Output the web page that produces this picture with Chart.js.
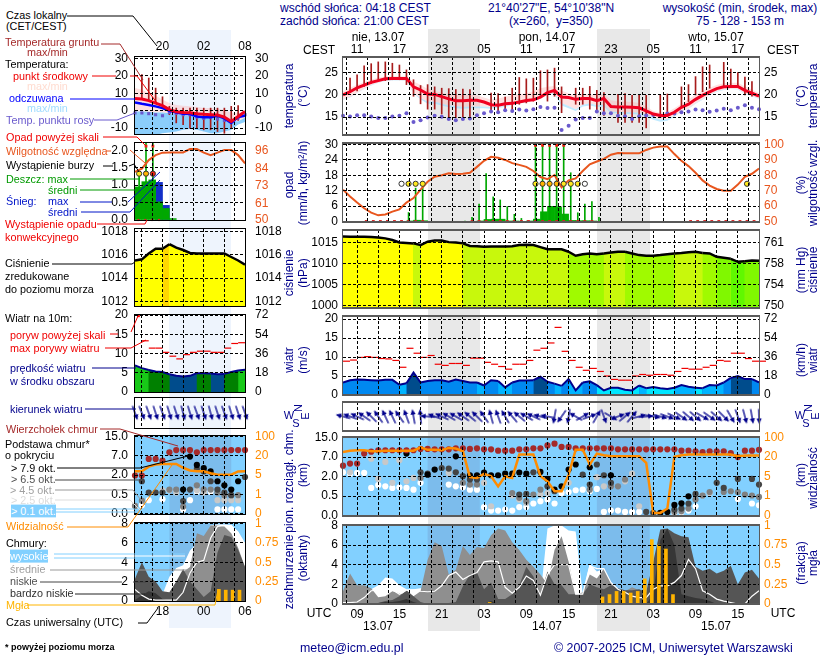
<!DOCTYPE html>
<html>
<head>
<meta charset="utf-8">
<title>meteogram</title>
<script src="https://cdn.jsdelivr.net/npm/chart.js@4/dist/chart.umd.min.js"></script>
<style>
html, body { margin: 0; padding: 0; background: #fff; }
#page { position: relative; width: 820px; height: 660px; overflow: hidden; font-family: "Liberation Sans", Arial, sans-serif; }
#page canvas { position: absolute; }
#page svg { position: absolute; left: 0; top: 0; }
.t { position: absolute; white-space: pre; line-height: 1; transform: translateY(-50%); }
.c { transform: translate(-50%, -50%); }
.r { transform: translate(-50%, -50%) rotate(-90deg); }
.band { position: absolute; }
</style>
</head>
<body>
<div id="page"></div>
<script>
// meteogram long panel: one value per hour, hour 7 of 13.07 UTC is the first
const startR = 7;
// hours counted from 13.07 00 UTC
const nightsR = [[19, 26.4], [43, 50.5]];
const tickHoursR = [9, 12, 15, 18, 21, 24, 27, 30, 33, 36, 39, 42, 45, 48, 51, 54, 57, 60, 63, 66];
const cestLabelsR = ['11', '', '17', '', '23', '', '05', '', '11', '', '17', '', '23', '', '05', '', '11', '', '17', ''];
const utcLabelsR = ['09', '', '15', '', '21', '', '03', '', '09', '', '15', '', '21', '', '03', '', '09', '', '15', ''];

const tempMid = [20, 20.7, 21.6, 22.2, 22.8, 23.2, 23.6, 23.7, 23.7, 23.7, 21.8, 21.1, 20.2, 20.1, 19.6, 19.1, 18.7, 18.7, 18.8, 18.8, 18.4, 17.8, 17.7, 18, 18.1, 18.4, 18.75, 18.9, 19.5, 20.5, 21, 19.5, 19.4, 19, 19.2, 19.2, 18.7, 19.2, 17.4, 17.3, 17.3, 17.2, 17.1, 16.4, 15.7, 15.4, 15.4, 16.1, 17.2, 17.9, 19, 19.9, 20.7, 21.4, 21.8, 21.9, 21.9, 21, 20.4, 19.7];
const tempMax = [20.8, 21.6, 22.3, 22.9, 23.4, 23.9, 24.1, 24.2, 24.2, 24.1, 23, 22.3, 21.3, 20.9, 20.5, 20.2, 20, 20, 20, 19.9, 19.4, 18.9, 19.2, 19.6, 19.9, 20.2, 20.3, 20.8, 21.5, 21.8, 22, 21, 20.3, 20, 20.2, 20.2, 19.9, 20.2, 18.8, 18.5, 18.5, 18.4, 18.2, 17.4, 16.4, 16, 16.1, 17, 18, 19, 20, 20.9, 21.6, 22.2, 22.6, 22.7, 22.7, 21.9, 21.2, 20.4];
const tempMin = [19, 19.5, 20.5, 21.4, 22.2, 22.8, 23.2, 23.4, 23.3, 23.2, 20.5, 19.3, 18.5, 18.5, 18, 17.6, 17.5, 17.3, 17.4, 17.4, 17.4, 17.2, 17.4, 17.5, 17.9, 18.2, 18.4, 18.9, 19.9, 20.3, 20.3, 18.2, 17.5, 16.8, 17.8, 18.1, 17.7, 17.8, 16.2, 16.2, 16.1, 16.1, 16, 15.6, 15, 14.5, 14.6, 15.3, 16.3, 17, 18.1, 19, 20, 20.8, 21.2, 21.4, 21.3, 20.3, 19.8, 19.2];
const feelLow = [18.9, 19.4, 20.4, 21.3, 22.1, 22.7, 23.1, 23.3, 23.2, 23.1, 20.3, 19, 18, 18, 17.6, 17.2, 17, 16.9, 17, 17, 17, 16.9, 17.1, 17.3, 17.8, 18.1, 18.3, 18.8, 19.8, 20.2, 20.1, 17.6, 17, 16.4, 17.4, 17.6, 17.3, 17.4, 15.9, 15.9, 15.7, 15.7, 15.6, 15.1, 14.4, 14, 14.2, 15.1, 16.2, 16.9, 18, 18.9, 19.9, 20.7, 21.1, 21.3, 21.2, 20.2, 19.7, 19.1];
const dewPoint = [15.3, 15.15, 15.45, 15.45, 15.15, 14.8, 14.8, 15.15, 15.3, 15.9, 13.9, 14.3, 14.9, 15.3, 15.1, 14.6, 14.3, 14.6, 14.7, 15.45, 15.9, 16.25, 16.1, 16.55, 16.4, 16.7, 16.5, 16.75, 17.3, 17.05, 17.1, 12.1, 13.1, 14.5, 14.8, 14.8, 16.3, 15.9, 15.9, 15.3, 15.2, 14.6, 15.2, 15.4, 15.5, 15.3, 15.8, 15.8, 16.1, 16.25, 16.7, 16.55, 16.2, 16.5, 16.9, 16.55, 17.1, 17.7, 17.1, 16.8];
const groundIdx = [1, 2, 3, 4, 5, 6, 7, 8, 9, 10, 11, 12, 13, 14, 15, 16, 17, 18, 21, 22, 23, 24, 25, 26, 27, 28, 29, 30, 31, 33, 34, 35, 36, 37, 39, 40, 41, 42, 43, 45, 46, 48, 49, 50, 51, 52, 54, 55, 56, 57, 58];
const groundMax = [23.75, 24.5, 26.5, 27, 27.4, 27.4, 27.1, 26.7, 25.6, 23.4, 22.1, 22.3, 21.8, 21.5, 21.4, 21.2, 21.3, 21.2, 20.4, 20.3, 19.5, 21.5, 23.9, 23.6, 23.75, 25.4, 25.6, 26, 21.8, 21.5, 21.5, 21.9, 21, 20.5, 20.1, 20.3, 19.9, 20.1, 19.9, 19.9, 20.2, 21.8, 22.3, 24.1, 26.3, 26.7, 27.3, 25.8, 25, 24, 23];
const groundMin = [20.7, 20.9, 21.9, 22.6, 23.4, 23.2, 23.4, 23.4, 22.3, 19.7, 18, 16.8, 16.8, 15.7, 14.9, 14.9, 14.9, 14.9, 16, 16, 16.8, 16.4, 17.9, 18.2, 18.6, 19.9, 18.6, 19.7, 16, 17.9, 17.9, 16.8, 16.4, 15.4, 13.8, 13.8, 13.8, 13.8, 12.6, 14.9, 16, 17.4, 18.5, 20, 20.7, 21.5, 21.9, 21.9, 21.9, 20, 19.7];

const humidity = [70.7, 66.3, 62.3, 58.6, 55.7, 54, 54.6, 56.4, 57.9, 62.3, 65.2, 70.7, 75.8, 79.1, 80, 81.3, 80.8, 81, 81.7, 85.5, 89.4, 92, 91.4, 90, 87.9, 86.8, 85.5, 82.8, 78.9, 77.5, 80.2, 72.2, 76.7, 78, 82.8, 87.2, 89, 90.7, 93.4, 94.5, 94.3, 94.3, 94.3, 96.5, 98, 98.7, 98.7, 93.8, 89.4, 86, 81.7, 76.7, 73.3, 71.1, 70, 70, 74, 79, 81, 84.4];
const rainMaxIdx = [9, 10, 11, 17, 18, 19, 20, 21, 22, 23, 24, 25, 27, 28, 29, 30, 31, 32, 33, 34, 35, 36];
const rainMax = [3.5, 13, 15.5, 0.2, 1.6, 6.8, 18.7, 9.6, 8.4, 5.8, 2.8, 1.2, 35, 35, 35, 35, 35, 19, 3.4, 6.8, 7.8, 1.6];
const rainMeanIdx = [9, 10, 11, 19, 20, 21, 22, 23, 24, 26, 27, 28, 29, 30, 31, 32, 33, 34, 35];
const rainMean = [0.1, 0.5, 0.3, 0.2, 0.8, 0.9, 0.9, 0.2, 0.1, 0.1, 0.9, 3.8, 5.9, 5.7, 2.9, 0.4, 0.3, 0.3, 0.1];
const overScaleIdx = [27, 28, 29, 30, 31];
const overScale = [29.7, 29.7, 29.7, 29.7, 29.7];
const convectiveIdx = [3, 4, 5, 6, 7, 8, 9, 10, 11, 18, 19, 20, 21, 22, 23, 24, 25, 26, 27, 28, 29, 30, 31, 32, 33, 34, 35, 49, 50, 51, 52, 53, 54, 55, 56, 57, 58];
const stormIdx = [8, 9, 10, 11, 27, 28, 29, 30, 31, 32, 33, 34, 57];
const stormColors = ['#fff', '#ffe81c', '#ffe81c', '#ffe81c', '#ffe81c', '#ffb400', '#ffb400', '#ffb400', '#ffe81c', '#ffe81c', '#ffe81c', '#fff', '#ffe81c'];

const pressure = [1016.45, 1016.4, 1016.4, 1016.4, 1016.35, 1016.2, 1016, 1015.6, 1015, 1014.9, 1014.8, 1014.4, 1015.2, 1015.5, 1015.5, 1015.1, 1015, 1014.8, 1014.2, 1014.1, 1014, 1014.05, 1014.05, 1014.05, 1014.1, 1014.4, 1014.5, 1014.4, 1013.9, 1013.4, 1013.4, 1013.4, 1012.8, 1011.85, 1012.2, 1012.4, 1012.2, 1012.4, 1012.6, 1012.8, 1012.8, 1012.4, 1012, 1011.85, 1011.85, 1012, 1012.2, 1012.4, 1012.5, 1012.7, 1012.8, 1012.5, 1012.4, 1011.6, 1011.35, 1011.1, 1010.4, 1010.55, 1010.7, 1010.65];

const windSpeed = [3.3, 3.9, 4.1, 4, 3.9, 3.8, 4, 4, 2.7, 3.1, 5.9, 3.3, 3.7, 3.9, 3.9, 3.5, 4.1, 3.7, 3.3, 3.3, 2.5, 3.9, 3.7, 2, 3.3, 3.8, 3.8, 3.9, 4.8, 3.5, 3, 2.4, 4.2, 1.2, 3.3, 3.6, 2.6, 1.2, 1.9, 1.9, 1.4, 1.2, 2.5, 1.8, 2.1, 1.8, 1.6, 1.9, 2.6, 2.2, 1.9, 1.8, 2.6, 2.5, 3.3, 4.5, 5, 4.2, 4.2, 3.3];
const windGust = [8.9, 9.2, 9.9, 10.1, 9.9, 9.6, 9.5, 9.1, 7.3, 12.3, 11, 9.9, 10.4, 8.1, 7.8, 8.3, 8.3, 7.8, 9.7, 9.7, 8.6, 8.1, 7.5, 6.8, 8.1, 8.1, 9.1, 11.8, 12.3, 13.7, 17.8, 11.5, 9.1, 7.3, 6.5, 7, 6.2, 5, 4.1, 3.9, 3.9, 5, 5.4, 5.2, 5.4, 5.4, 5.2, 6.2, 7, 6.8, 6.8, 7.3, 7.8, 9.1, 8.9, 11, 11, 9.6, 8.9, 8.9];
const windDir = [285, 290, 295, 305, 315, 325, 335, 335, 325, 340, 350, 355, 275, 290, 295, 300, 300, 305, 310, 315, 325, 345, 340, 330, 320, 310, 300, 295, 285, 280, 190, 215, 190, 300, 60, 70, 30, 160, 120, 70, 50, 40, 75, 85, 100, 105, 110, 115, 125, 130, 130, 120, 125, 130, 135, 150, 160, 165, 170, 178];

// cloud base axis is uneven, values are positions on its five marks
const baseTicks = [0, 1, 2, 3, 4];
const baseLabels = ['0.0', '0.5', '2.0', '7.0', '15.0'];
const visLabels = ['0', '1', '5', '20', '100'];
const cloudTop = [2.56, 2.67, 2.67, 3.18, 3.28, 3.35, 3.35, 3.35, 3.35, 3.35, 3.35, 3.42, 3.42, 3.4, 3.4, 3.4, 3.45, 3.45, 3.42, 3.45, 3.4, 3.4, 3.33, 3.33, 3.33, 3.4, 3.4, 3.45, 3.45, 3.6, 3.69, 3.52, 3.52, 3.45, 3.45, 3.45, 3.45, 3.45, 3.45, 3.4, 3.4, 3.4, 3.4, 3.4, 3.4, 3.4, 3.4, 3.4, 3.33, 3.33, 3.3, 3.25, 3.3, 3.3, 3.3, 3.2, 3, 3.33, 3.33, 3.37];
const base79Idx = [9, 12, 13, 16, 18, 19, 20, 21, 22, 23, 24, 25, 26, 28, 29, 30, 31, 32, 33, 35, 38, 45, 46, 47, 48, 49];
const base79 = [3.18, 2.1, 2.36, 3.04, 2.07, 2.07, 2.21, 2.07, 2.07, 2.15, 2.15, 2.21, 2.15, 2.24, 1.88, 1.33, 1.5, 2.36, 2.62, 2.48, 2.07, 0.14, 0.19, 0.55, 0.63, 0.99];
const base65Idx = [11, 12, 14, 15, 16, 17, 18, 19, 25, 26, 27, 29, 30, 34, 35, 36, 37, 38, 43, 44, 47, 48, 49, 50, 53, 54, 56, 58, 59];
const base65 = [2.22, 2.15, 2.44, 2.41, 2.22, 2.02, 1.85, 1.85, 1.08, 1.11, 2.22, 1.5, 1.25, 2.1, 1.59, 2.62, 2.07, 1.68, 0.19, 0.14, 0.31, 0.36, 0.62, 1.11, 1.68, 1.42, 1.88, 1.88, 1.59];
const base45Idx = [11, 17, 18, 19, 24, 25, 26, 27, 28, 35, 38, 39, 40, 47, 48, 49, 50, 51, 52, 54, 55, 56, 57, 58, 59];
const base45 = [1.93, 1.68, 1.59, 1.59, 1.16, 0.91, 0.74, 1.08, 1.33, 1.33, 1.5, 1.5, 1.85, 0.19, 0.22, 0.36, 0.82, 1.03, 1.21, 1.21, 1.25, 1.21, 1.08, 1.03, 0.96];
const base25Idx = [1, 4, 5, 6, 7, 8, 9, 10, 15, 20, 21, 24, 25, 26, 28, 29, 32, 36, 37, 40, 41, 42, 51, 52];
const base25 = [2.22, 2.92, 1.88, 2.75, 1.68, 2.84, 1.76, 1.93, 2.19, 1.68, 0.48, 1.03, 0.82, 0.65, 1.08, 1.16, 1.68, 1.97, 1.5, 1.76, 2.15, 0.48, 1.03, 1.16];
const base01Idx = [0, 1, 2, 3, 4, 5, 6, 7, 8, 9, 10, 11, 15, 16, 17, 18, 19, 20, 21, 22, 23, 24, 25, 26, 27, 28, 29, 30, 31, 32, 33, 34, 35, 36, 37, 38, 39, 40, 41, 42, 47, 48, 49, 50, 56, 58, 59];
const base01 = [2.22, 2.14, 2.19, 2.19, 1.42, 1.56, 1.5, 1.42, 1.45, 1.42, 1.33, 1.68, 1.59, 1.5, 1.45, 1.33, 1.33, 0.43, 0.26, 0.26, 0.31, 0.26, 0.44, 0.44, 0.62, 0.74, 0.82, 0.62, 1.16, 1.21, 1.3, 1.33, 1.25, 1.37, 0.19, 0.26, 0.26, 0.19, 0.19, 0.19, 0.14, 0.19, 0.26, 0.48, 0.85, 0.62, 0.53];
const visibility = [3.26, 3.33, 3.35, 3.35, 3.3, 3.3, 3.33, 3.33, 3.33, 3.33, 3.33, 3.5, 3.37, 3.37, 3.35, 3.47, 3.44, 3.3, 1.97, 1.93, 2.14, 2.02, 1.5, 2.02, 1.93, 3.13, 3.13, 3.13, 2.02, 1.76, 1.25, 1.25, 2.1, 3.38, 3.38, 2.62, 3.18, 3.09, 3.04, 3.04, 3.04, 3.04, 3.04, 2.7, 0.14, 0.14, 0.36, 3.01, 3.09, 3.13, 3.13, 3.13, 3.13, 3.13, 3.13, 3.13, 3.04, 3.08, 3.08, 3.08];

const cloudHigh = [0.1, 0.1, 0.1, 0.5, 1.5, 1.9, 2.7, 2.6, 1.9, 1.5, 1.5, 1.6, 1.4, 1.3, 0.8, 0.6, 0.5, 1, 1.2, 1.4, 1.8, 2.2, 2.6, 2, 0.9, 0.5, 0.7, 1.5, 0.7, 7.7, 8, 8, 7.5, 7.4, 1, 4.1, 3.3, 3.6, 2.2, 1.5, 1.2, 0.9, 0.7, 0.7, 1.5, 1.8, 1.8, 2.2, 2.9, 4.5, 3.6, 1.3, 1, 0.5, 0.3, 0.1, 0, 0, 0.8, 1.3];
const cloudMid = [1.3, 3.1, 1.9, 1.9, 1.6, 0.7, 0.8, 1.3, 1.1, 1, 0.8, 1.3, 4.5, 6.3, 5.9, 3, 3.5, 5.9, 5, 5.8, 5.7, 7, 7.7, 7.5, 6.3, 5.5, 4.5, 3.8, 3, 2, 5.5, 6.9, 4.3, 0.9, 1.2, 3, 2.6, 3.6, 2.2, 1.5, 1.3, 1.7, 1.4, 1, 0.5, 0.3, 0.2, 0.2, 0.1, 0, 0, 0, 0, 0, 0, 0, 0, 0, 0, 0];
const cloudLow = [0, 0, 0, 0, 0, 0.1, 0.3, 0.4, 0.8, 1.4, 0.8, 0.2, 0, 0, 0, 0.1, 0.2, 1.8, 3, 3.2, 1.5, 2.2, 0.5, 0.5, 1, 1.9, 3.8, 2.8, 1, 3.3, 2, 1.9, 1, 1, 1, 2, 1.7, 1.5, 1.9, 1.6, 1.4, 1.4, 1.5, 1.2, 4.3, 7.6, 7.7, 7.2, 6.9, 6.8, 3.8, 3.4, 3.6, 3.1, 3.4, 3.9, 2, 3.2, 3.5, 2.6];
const cloudVeryLow = [0, 0, 0, 0, 0, 0.1, 0.2, 0.2, 0.3, 0.5, 0.2, 0, 0, 0, 0, 0, 0, 0, 0, 0, 0, 0.3, 0, 0, 0, 0, 0, 0, 0, 0, 0, 0, 0, 0, 0, 0, 0, 0, 0, 0, 0, 0, 0, 0, 1, 6.5, 7.7, 6, 1, 0.8, 0.6, 0.5, 0.3, 0, 0, 0, 0, 0, 0, 0];
const cloudLine = [0.14, 0.14, 0.2, 0.65, 1.35, 1.4, 1, 1.45, 1, 1.4, 1.45, 1.3, 1.25, 1.3, 1.85, 2.9, 3.25, 2.5, 2.9, 3.2, 4.3, 4.4, 4.3, 1.7, 1.1, 1.7, 2.85, 2.4, 0.9, 3, 4, 4, 4, 1, 1, 3.9, 3.6, 3.6, 2.2, 1.5, 1.2, 0.8, 0.65, 0.65, 1.5, 1.85, 1.85, 2.2, 2.9, 4.55, 3.6, 1.35, 1, 0.5, 0.3, 0.15, 0, 0, 0.8, 1.35];
const fogIdx = [21, 37, 38, 39, 40, 41, 42, 43, 44, 45, 46, 47];
const fog = [0.02, 0.09, 0.12, 0.16, 0.16, 0.14, 0.16, 0.32, 0.82, 0.75, 0.7, 0.12];

// short legend panel: hour 14 of the day before to hour 06
const startL = 14;
const nightL = [19, 28];
const tickHoursL = [15, 18, 21, 24, 27, 30];
const localLabelsL = ['', '20', '', '02', '', '08'];
const utcLabelsL = ['', '18', '', '00', '', '06'];

const tempMidL = [7.1, 6.7, 5.8, 4.4, 2.9, 0.6, -0.6, -1, -1.2, -1.7, -2.1, -2.3, -2.5, -3.7, -6.2, -3.3, -0.4];
const feelMidL = [4.8, 4, 3.3, 2.5, 1.5, 0, -1, -1.7, -1.9, -3.3, -3.7, -3.7, -2.9, -4.4, -7.1, -3.7, -2.9];
const tempMaxL = [13, 12, 10.2, 8.7, 6.3, 4.4, 3.3, 2.9, 2.5, 2.1, 1.5, 1.5, 1.2, 0.6, -1.3, -1.3, -0.4];
const tempMinL = [-0.4, -0.4, -0.6, -1, -1, -1.5, -2, -2.5, -3, -3, -3.5, -3.5, -3.5, -4.5, -6, -6, -4];
const feelMinL = [-14, -14, -14, -14, -13, -12.5, -12, -11, -10.5, -11, -12, -13, -13, -12, -11, -8, -6.5];
const dewPointL = [-1.3, -1.3, -1.7, -2.3, -2.9, -1, -1.5, -2.3, -2.3, -3.7, -4.4, -3.7, -4.8, -5.6, -6.2, -4.2, -2.3];
const groundIdxL = [1, 2, 3, 4, 5, 6, 7, 8, 9, 10, 11, 12, 13, 14, 15];
const groundMaxL = [20.8, 18.8, 13, 8, 2.5, 1.5, 1.5, 1.5, 1.5, 1.5, 1.5, 1.5, 1.5, 2.5, 3];
const groundMinL = [7.3, 6.3, 4.4, 3, -2.3, -7, -8, -10, -10, -11, -11, -12, -13, -10, -5.6];

const humidityL = [81.9, 84, 89.6, 92.9, 94.5, 94.7, 94.7, 94.7, 96.9, 96.9, 94.5, 92.9, 94.5, 96.2, 96.2, 92.9, 87.4];
const rainMeanIdxL = [0, 1, 2, 3, 4, 5];
const rainMeanL = [0.95, 1.1, 1.15, 0.52, 0.33, 0.04];
const snowMeanIdxL = [3, 4];
const snowMeanL = [1.08, 0.42];
const rainMaxIdxL = [0, 1, 2];
const rainMaxL = [1.34, 2.3, 2.3];
const overScaleIdxL = [1, 2];
const overScaleL = [2.12, 2.12];
const convectiveIdxL = [0, 1, 2, 3];
const stormIdxL = [0, 1, 2];
const stormColorsL = ['#ffe81c', '#ffb400', '#f02010'];

const pressureL = [1015.5, 1015.6, 1016.1, 1016.5, 1016.5, 1016.9, 1016.6, 1016.4, 1016.15, 1016.1, 1016.1, 1016.1, 1016.1, 1016.1, 1015.8, 1015.5, 1015.15];

const windSpeedL = [6.9, 6.2, 5.7, 5.3, 5.2, 4.6, 4.2, 4, 4.2, 4.9, 4.9, 4.8, 4.6, 4.7, 5.2, 5.6, 5.8];
const windGustL = [17, 13.3, 11.4, 11.4, 10.3, 9.3, 8.6, 9.7, 10.3, 10.6, 10.6, 10.3, 10.3, 11.4, 12.6, 12.8];
const gustOverL = [19.8];
const windDirL = [160, 158, 160, 162, 160, 163, 162, 165, 163, 160, 162, 165, 162, 160, 163, 162, 160];

const cloudTopL = [1.98, 1.98, 2.84, 2.84, 2.75, 3.18, 3.3, 3.3, 3.3, 3.18, 3.3, 3.3, 3.3, 3.3, 3.3, 3.3, 3.3];
const base79IdxL = [7, 8, 9, 10, 11, 12, 13, 14, 15];
const base79L = [1.25, 2.96, 2.53, 2.36, 2.19, 1.68, 1.47, 1.25, 1.68];
const base65IdxL = [1, 2, 3, 4, 7, 8, 9, 10, 11, 12, 13, 14, 16];
const base65L = [1.68, 1.09, 1.09, 1.09, 0.65, 1.25, 2.32, 2.19, 1.68, 1.25, 1.09, 0.96, 1.9];
const base45IdxL = [0, 1, 5, 6, 7, 9, 10, 11, 12, 13, 14, 15];
const base45L = [0.4, 0.67, 1.25, 1.25, 0.36, 1.47, 1.25, 1.25, 1.09, 0.96, 0.96, 0.96];
const base25IdxL = [0, 4, 5, 6, 9, 10, 12, 13, 14, 15];
const base25L = [0.4, 1.21, 1.21, 1.09, 1.21, 1.09, 0.7, 0.7, 0.7, 0.7];
const base01IdxL = [1, 2, 4, 7, 8, 9, 10, 11, 12, 13, 14, 15];
const base01L = [0.44, 0.7, 0.75, 0.22, 0.7, 1.13, 1.13, 1.13, 0.22, 0.22, 0.22, 0.22];
const visibilityL = [2.2, 2.2, 2.44, 2.55, 2.58, 2.58, 2.58, 2.38, 2.24, 2.2, 2.2, 2.1, 2.02, 2.02, 2.02, 2.19, 2.2];

const cloudHighL = [0, 0, 0, 0, 0.7, 2.5, 3.4, 3.7, 5.2, 5.9, 6, 7.8, 7.9, 7.9, 7.8, 7.2, 6];
const cloudMidL = [0, 0, 0, 0, 0, 0, 1, 3, 3.5, 7, 6.7, 7.8, 7.8, 7.7, 7, 5.5, 3.5];
const cloudLowL = [2.3, 4, 2.5, 2, 1, 0.9, 2, 3.3, 2, 1.2, 0.4, 1, 5, 6.8, 6.6, 5.3, 3.5];
const cloudVeryLowL = [0.1, 0.6, 1, 0.8, 0.2, 0, 0, 0, 0, 0, 0, 0, 0, 0, 0, 0, 0];
const cloudLineL = [1.2, 0.6, 0.2, 0.1, 0.1, 0.1, 0.1, 0.9, 2.9, 4, 4.2, 6.5, 7.7, 7.8, 7.8, 7, 5.6];
const fogIdxL = [12, 13, 14, 15];
const fogL = [0.15, 0.14, 0.14, 0.14];

Chart.defaults.font.family = '"Liberation Sans", Arial, sans-serif';
Chart.defaults.font.size = 12;
Chart.defaults.color = '#000';

const page = document.getElementById('page');
const NAVY = '#00008c';
const ORANGE = '#ff8c00';
const HUMID = '#e8561e';
const SKY = '#82d0ff';
const SKY_NIGHT = '#7cbcec';

function pts(values, start) {
    return values.map((v, i) => ({ x: start + i, y: v }));
}
function idxPts(idx, values, start, shift) {
    return idx.map((k, n) => ({ x: start + k + (shift || 0), y: values[n] }));
}
function rangePts(idx, low, high, start, shift) {
    return idx.map((k, n) => ({ x: start + k + (shift || 0), y: [low[n], high[n]] }));
}

function lineSet(data, color, width, extra) {
    return Object.assign({ type: 'line', data, borderColor: color, borderWidth: width, pointRadius: 0, tension: 0, fill: false }, extra);
}
function areaSet(data, color, fill, extra) {
    return Object.assign({ type: 'line', data, borderWidth: 0, borderColor: 'transparent', backgroundColor: color, pointRadius: 0, tension: 0, fill }, extra);
}
function barSet(data, color, thick, extra) {
    return Object.assign({ type: 'bar', data, backgroundColor: color, barThickness: thick, grouped: false }, extra);
}
function dotSet(data, color, radius, extra) {
    return Object.assign({ type: 'scatter', data, backgroundColor: color, borderWidth: 0, pointRadius: radius, clip: false }, extra);
}

function pressColor(v) {
    if (v >= 1016.8) return '#ffd800';
    if (v >= 1014.6) return '#ffff00';
    if (v >= 1012.5) return '#c8f80c';
    if (v >= 1011.5) return '#a0fa00';
    if (v >= 1010.6) return '#80f800';
    return '#60f800';
}
function windColor(v) {
    if (v >= 5.6) return '#18c818';
    if (v >= 4.8) return '#008000';
    if (v >= 4.1) return '#004c8c';
    if (v >= 3) return '#0088f0';
    if (v >= 2) return '#00b4ff';
    return '#00e6ff';
}

// arrow sprite, head points up, rotated per point
function arrowSprite() {
    const c = document.createElement('canvas');
    c.width = 18;
    c.height = 18;
    const g = c.getContext('2d');
    g.strokeStyle = NAVY;
    g.fillStyle = NAVY;
    g.lineWidth = 1.3;
    g.beginPath();
    g.moveTo(9, 16.5);
    g.lineTo(9, 4);
    g.stroke();
    g.beginPath();
    g.moveTo(9, 1.5);
    g.lineTo(11.6, 7);
    g.lineTo(6.4, 7);
    g.closePath();
    g.fill();
    return c;
}
const arrow = arrowSprite();

// paints sky and night behind the cloud panels, frame on top of every panel
const panelPaint = {
    id: 'panelPaint',
    beforeDatasetsDraw(chart, args, o) {
        if (!o.sky) return;
        const a = chart.chartArea, x = chart.scales.x, g = chart.ctx;
        g.save();
        g.fillStyle = SKY;
        g.fillRect(a.left, a.top, a.width, a.height);
        g.fillStyle = SKY_NIGHT;
        o.nights.forEach(n => {
            const x0 = x.getPixelForValue(n[0]), x1 = x.getPixelForValue(n[1]);
            g.fillRect(x0, a.top, x1 - x0, a.height);
        });
        g.restore();
    },
    afterDraw(chart, args, o) {
        const a = chart.chartArea, g = chart.ctx;
        g.save();
        if (o.long) {
            g.fillStyle = '#5a5a5a';
            g.fillRect(a.left, a.top - 1, a.width, 2);
            g.fillRect(a.left, a.bottom - 1, a.width, 2);
            g.fillRect(a.left - 1, a.top - 1, 1, a.height + 2);
            g.fillRect(a.right, a.top - 1, 1, a.height + 2);
        } else {
            g.strokeStyle = '#000';
            g.lineWidth = 1;
            g.strokeRect(a.left - 0.5, a.top - 0.5, a.width + 1, a.height + 1);
        }
        g.restore();
    }
};

function axisY(side, ax, pad) {
    return {
        type: 'linear', position: side, min: ax.min, max: ax.max,
        afterFit: s => { s.width = 50; },
        afterBuildTicks: s => { s.ticks = ax.ticks.map(v => ({ value: v })); },
        ticks: { autoSkip: false, padding: pad, color: ax.color || '#000', callback: (v, i) => ax.labels ? ax.labels[i] : v },
        grid: side === 'left' ? { display: !ax.noGrid, color: '#000', z: 1, drawTicks: false } : { display: false, drawTicks: false },
        border: { display: false, dash: [3, 2] }
    };
}

function panel(box, p) {
    const long = box.long;
    const c = document.createElement('canvas');
    const m = 50, v = 22;
    c.style.left = (box.x - m) + 'px';
    c.style.top = (box.y - v) + 'px';
    c.style.width = (box.w + 2 * m) + 'px';
    c.style.height = (box.h + 2 * v) + 'px';
    c.width = box.w + 2 * m;
    c.height = box.h + 2 * v;
    page.appendChild(c);
    const range = long ? { min: startR, max: startR + 59 } : { min: startL, max: startL + 16 };
    const tickHours = long ? tickHoursR : tickHoursL;
    const xLabels = p.xLabels;
    const total = p.sets.length;
    p.sets.forEach((s, i) => { s.order = total - i; });
    new Chart(c, {
        type: 'line',
        data: { datasets: p.sets },
        plugins: [panelPaint],
        options: {
            responsive: false,
            animation: false,
            devicePixelRatio: 1,
            events: [],
            layout: { autoPadding: false, padding: { top: p.xTop ? 0 : v, bottom: p.xTop ? v : 0 } },
            plugins: {
                legend: { display: false },
                tooltip: { enabled: false },
                panelPaint: { long, sky: !!p.sky, nights: long ? nightsR : [nightL] }
            },
            scales: {
                x: {
                    type: 'linear', position: p.xTop ? 'top' : 'bottom', min: range.min, max: range.max, offset: false,
                    afterFit: s => { s.height = v; },
                    afterBuildTicks: s => { s.ticks = tickHours.map(h => ({ value: h })); },
                    ticks: { display: !!xLabels, autoSkip: false, maxRotation: 0, padding: long && p.xTop ? 0 : 3, callback: (h, i) => xLabels ? xLabels[i] : '' },
                    grid: { color: '#000', z: 1, drawTicks: false },
                    border: { display: false, dash: [3, 2] }
                },
                y: axisY('left', p.left, long ? 5 : 7),
                y1: axisY('right', p.right, long ? 5 : 10)
            }
        }
    });
}

const xR = 343, wR = 416, xL = 135, wL = 110;

function tempSets(mid, feel, max, min, low, dew, gIdx, gLow, gHigh, start, dewR, dewStyle) {
    const sets = [
        areaSet(pts(max, start), 'rgba(255,170,170,0.35)', '+1'),
        areaSet(pts(min, start), low.color, '+1'),
        areaSet(pts(low.data, start), 'transparent', false),
        barSet(rangePts(gIdx, gLow, gHigh, start), '#a81c1c', 1),
        dotSet(pts(dew, start), '#6a5acd', dewR, { pointStyle: dewStyle })
    ];
    if (feel) sets.push(lineSet(pts(feel, start), '#0000ff', 2.5));
    sets.push(lineSet(pts(mid, start), '#f00020', 3));
    return sets;
}

// temperature
panel({ long: true, x: xR, y: 57, w: wR, h: 78 }, {
    xTop: true, xLabels: cestLabelsR,
    left: { min: 11, max: 28.5, ticks: [15, 20, 25] },
    right: { min: 11, max: 28.5, ticks: [15, 20, 25] },
    sets: tempSets(tempMid, null, tempMax, tempMin, { data: feelLow, color: 'rgba(150,220,255,0.6)' }, dewPoint, groundIdx, groundMin, groundMax, startR, 2, 'circle')
});
panel({ x: xL, y: 57, w: wL, h: 77 }, {
    xTop: true, xLabels: localLabelsL,
    left: { min: -13.4, max: 30.9, ticks: [-10, 0, 10, 20, 30] },
    right: { min: -13.4, max: 30.9, ticks: [-10, 0, 10, 20, 30] },
    sets: tempSets(tempMidL, feelMidL, tempMaxL, tempMinL, { data: feelMinL, color: 'rgba(100,190,250,0.75)' }, dewPointL, groundIdxL, groundMinL, groundMaxL, startL, 2.2, 'rect')
});

// precipitation and humidity
function rainScatter(idx, y, colors, start, shift, r) {
    return dotSet(idxPts(idx, y, start, shift), colors, r, { borderColor: '#333', borderWidth: 1 });
}
panel({ long: true, x: xR, y: 143, w: wR, h: 79 }, {
    left: { min: -0.2, max: 30.6, ticks: [0, 6, 12, 18, 24, 30] },
    right: { min: 49.67, max: 101, ticks: [50, 60, 70, 80, 90, 100], color: HUMID },
    sets: [
        barSet(idxPts(rainMeanIdx, rainMean, startR, 0.5), '#00b000', 7.05),
        barSet(idxPts(rainMaxIdx, rainMax, startR, 0.3), '#00a800', 1),
        dotSet(idxPts(convectiveIdx, convectiveIdx.map(() => 0), startR, 0.3), '#d82020', 2, { pointStyle: 'rect' }),
        lineSet(pts(humidity, startR), HUMID, 2, { yAxisID: 'y1' }),
        dotSet(idxPts(overScaleIdx, overScale, startR, 0.3), '#f02010', 2, { pointStyle: 'rect' }),
        rainScatter(stormIdx, stormIdx.map(() => 14.7), stormColors, startR, 0.3, 2.6)
    ]
});
panel({ x: xL, y: 143, w: wL, h: 77 }, {
    left: { min: 0, max: 2.21, ticks: [0, 0.5, 1, 1.5, 2], labels: ['0.0', '0.5', '1.0', '1.5', '2.0'] },
    right: { min: 50, max: 100.9, ticks: [50, 61, 73, 84, 96], color: HUMID },
    sets: [
        barSet(idxPts(snowMeanIdxL, snowMeanL, startL, 0.5), '#1430c8', 6.9),
        barSet(idxPts(rainMeanIdxL, rainMeanL, startL, 0.5), '#00a800', 6.9),
        barSet(idxPts(rainMaxIdxL, rainMaxL, startL, 0.6), '#00a800', 1),
        dotSet(idxPts(convectiveIdxL, convectiveIdxL.map(() => 0), startL, 0.5), '#e02020', 1.5, { pointStyle: 'rect' }),
        lineSet(pts(humidityL, startL), HUMID, 2, { yAxisID: 'y1' }),
        dotSet(idxPts(overScaleIdxL, overScaleL, startL, 0.6), '#f02010', 2, { pointStyle: 'rect' }),
        rainScatter(stormIdxL, stormIdxL.map(() => 1.33), stormColorsL, startL, 0.6, 2.6)
    ]
});

// pressure, a plain fill below hides the seams between coloured segments
function pressSets(values, start, under) {
    return [
        areaSet(pts(values, start), under, 'start'),
        lineSet(pts(values, start), '#000', 2.5, {
            fill: 'start', backgroundColor: under,
            segment: { backgroundColor: ctx => pressColor(ctx.p1.parsed.y) }
        })
    ];
}
panel({ long: true, x: xR, y: 230, w: wR, h: 78 }, {
    left: { min: 999.35, max: 1018, ticks: [1000, 1005, 1010, 1015] },
    right: { min: 999.35, max: 1018, ticks: [1000, 1005, 1010, 1015], labels: ['750', '754', '758', '761'] },
    sets: pressSets(pressure, startR, '#b4fa08')
});
panel({ x: xL, y: 229, w: wL, h: 77 }, {
    left: { min: 1011.6, max: 1018.2, ticks: [1012, 1014, 1016, 1018] },
    right: { min: 1011.6, max: 1018.2, ticks: [1012, 1014, 1016, 1018] },
    sets: pressSets(pressureL, startL, '#ffff00')
});

// wind speed and gusts
function windSets(values, start, under) {
    return [
        areaSet(pts(values, start), under, 'start'),
        lineSet(pts(values, start), '#00008c', 2, {
            fill: 'start', backgroundColor: under,
            segment: { backgroundColor: ctx => windColor((ctx.p0.parsed.y + ctx.p1.parsed.y) / 2) }
        })
    ];
}
function gustSet(values, start, shift, halfWidth) {
    return dotSet(idxPts(values.map((v, i) => i), values, start, shift), '#f00000', halfWidth, { pointStyle: 'line', borderColor: '#f00000', borderWidth: 1.2 });
}
panel({ long: true, x: xR, y: 316, w: wR, h: 79 }, {
    left: { min: 0, max: 20.8, ticks: [0, 5, 10, 15, 20] },
    right: { min: 0, max: 20.8, ticks: [0, 5, 10, 15, 20], labels: ['0', '18', '36', '54', '72'] },
    sets: windSets(windSpeed, startR, '#0088f0').concat([gustSet(windGust, startR, 0.5, 3.5)])
});
panel({ x: xL, y: 315, w: wL, h: 77 }, {
    left: { min: 0, max: 20, ticks: [0, 5, 10, 15, 20] },
    right: { min: 0, max: 20, ticks: [0, 5, 10, 15, 20], labels: ['0', '18', '36', '54', '72'] },
    sets: windSets(windSpeedL, startL, '#008000').concat([
        gustSet(windGustL.slice(1), startL + 1, 0.5, 3.4),
        dotSet(idxPts([0], gustOverL, startL, 0.5), '#f00000', 2, { pointStyle: 'rect' })
    ])
});

// wind direction
function dirSet(dirs, start) {
    return dotSet(pts(dirs.map(() => 0.5), start), NAVY, 9, { pointStyle: arrow, pointRotation: dirs });
}
const dirAxis = { min: 0, max: 1, ticks: [], noGrid: true };
panel({ long: true, x: xR, y: 402, w: wR, h: 29 }, { left: dirAxis, right: dirAxis, sets: [dirSet(windDir, startR)] });
panel({ x: xL, y: 398, w: wL, h: 30 }, { left: dirAxis, right: dirAxis, sets: [dirSet(windDirL, startL)] });

// cloud base and visibility
function baseSets(top, groups, vis, start) {
    const sets = [];
    const colors = ['#ffffff', '#c8c8c8', '#808080', '#444444', '#000000'];
    groups.forEach((g, i) => sets.push(dotSet(idxPts(g[0], g[1], start), colors[i], 3.1)));
    sets.push(dotSet(pts(top, start), '#a52a2a', 3.1));
    sets.push(lineSet(pts(vis, start), ORANGE, 2.5));
    return sets;
}
panel({ long: true, x: xR, y: 437, w: wR, h: 79 }, {
    sky: true,
    left: { min: -0.02, max: 4.03, ticks: baseTicks, labels: baseLabels },
    right: { min: -0.02, max: 4.03, ticks: baseTicks, labels: visLabels, color: ORANGE },
    sets: baseSets(cloudTop, [[base01Idx, base01], [base25Idx, base25], [base45Idx, base45], [base65Idx, base65], [base79Idx, base79]], visibility, startR)
});
panel({ x: xL, y: 436, w: wL, h: 78 }, {
    sky: true,
    left: { min: -0.02, max: 4.03, ticks: baseTicks, labels: baseLabels },
    right: { min: -0.02, max: 4.03, ticks: baseTicks, labels: visLabels, color: ORANGE },
    sets: baseSets(cloudTopL, [[base01IdxL, base01L], [base25IdxL, base25L], [base45IdxL, base45L], [base65IdxL, base65L], [base79IdxL, base79L]], visibilityL, startL)
});

// cloud amount and fog
function cloudSets(high, mid, low, veryLow, thin, fIdx, fVals, start, fShift) {
    return [
        areaSet(pts(high, start), '#ffffff', 'start'),
        areaSet(pts(mid, start), '#8f8f8f', 'start'),
        areaSet(pts(low, start), '#555555', 'start'),
        areaSet(pts(veryLow, start), '#363636', 'start'),
        lineSet(pts(thin, start), '#ffffff', 1.2),
        barSet(idxPts(fIdx, fVals, start, fShift), '#ffb400', 3, { yAxisID: 'y1' })
    ];
}
const fracLabels = ['0', '0.25', '0.5', '0.75', '1'];
panel({ long: true, x: xR, y: 525, w: wR, h: 79 }, {
    sky: true, xLabels: utcLabelsR,
    left: { min: 0, max: 8.05, ticks: [0, 2, 4, 6, 8] },
    right: { min: 0, max: 1.006, ticks: [0, 0.25, 0.5, 0.75, 1], labels: fracLabels, color: ORANGE },
    sets: cloudSets(cloudHigh, cloudMid, cloudLow, cloudVeryLow, cloudLine, fogIdx, fog, startR, -0.2)
});
panel({ x: xL, y: 523, w: wL, h: 78 }, {
    sky: true, xLabels: utcLabelsL,
    left: { min: 0, max: 8.05, ticks: [0, 2, 4, 6, 8] },
    right: { min: 0, max: 1.006, ticks: [0, 0.25, 0.5, 0.75, 1], labels: fracLabels, color: ORANGE },
    sets: cloudSets(cloudHighL, cloudMidL, cloudLowL, cloudVeryLowL, cloudLineL, fogIdxL, fogL, startL, 0.2)
});

// night stripes behind the panels
function band(x0, x1, y0, y1, color) {
    const d = document.createElement('div');
    d.className = 'band';
    d.style.cssText = `left:${x0}px;top:${y0}px;width:${x1 - x0}px;height:${y1 - y0}px;background:${color};z-index:-1`;
    page.appendChild(d);
}
const pxR = h => xR + (h - startR) * wR / 59;
nightsR.forEach(n => band(pxR(n[0]), pxR(n[1]), 29, 631, '#e8e8e8'));
band(xL + (nightL[0] - startL) * wL / 16, xL + (nightL[1] - startL) * wL / 16, 30, 628, '#eef4fd');
page.style.zIndex = 0;

// texts
function text(s, x, y, color, size, cls, extra) {
    const d = document.createElement('div');
    d.className = 't ' + (cls || '');
    d.textContent = s;
    d.style.cssText = `left:${x}px;top:${y}px;color:${color};font-size:${size}px;${extra || ''}`;
    page.appendChild(d);
}
const BROWN = '#a52a2a', RED = '#f00000', GREEN = '#009a00', BLUE = '#0014c8', SLATE = '#6a5acd';
const legendTexts = [
    ['Czas lokalny', 6, 15, '#000'], ['(CET/CEST)', 6, 26, '#000'],
    ['Temperatura gruntu', 5, 42, BROWN], ['max/min', 27, 52, BROWN],
    ['Temperatura:', 5, 64, '#000'], ['punkt środkowy', 13, 76, RED], ['max/min', 27, 86, '#ffdcd0'],
    ['odczuwana', 9, 98, '#0000ff'], ['max/min', 27, 108, '#a0dcff'], ['Temp. punktu rosy', 6, 120, SLATE],
    ['Opad powyżej skali', 6, 137, RED], ['Wilgotność względna', 6, 151, HUMID], ['Wystąpienie burzy', 6, 165, '#000'],
    ['Deszcz: max', 6, 179, GREEN], ['średni', 48, 190, GREEN], ['Śnieg:', 6, 201, BLUE], ['max', 48, 201, BLUE], ['średni', 48, 212, BLUE],
    ['Wystąpienie opadu', 5, 224, RED], ['konwekcyjnego', 5, 237, RED],
    ['Ciśnienie', 5, 263, '#000'], ['zredukowane', 5, 276, '#000'], ['do poziomu morza', 5, 289, '#000'],
    ['Wiatr na 10m:', 5, 318, '#000'], ['poryw powyżej skali', 10, 335, RED], ['max porywy wiatru', 10, 348, RED],
    ['prędkość wiatru', 10, 368, NAVY], ['w środku obszaru', 10, 381, NAVY], ['kierunek wiatru', 10, 409, NAVY],
    ['Wierzchołek chmur', 6, 429, BROWN], ['Podstawa chmur*', 5, 444, '#000'], ['o pokryciu', 5, 455, '#000'],
    ['> 7.9 okt.', 11, 468, '#000'], ['> 6.5 okt.', 11, 479, '#505050'], ['> 4.5 okt.', 10, 490, '#a0a0a0'], ['> 2.5 okt.', 11, 500, '#dcdcdc'],
    ['Widzialność', 6, 526, ORANGE], ['Chmury:', 6, 543, '#000'], ['średnie', 10, 569, '#a0a0a0'], ['niskie', 10, 581, '#505050'], ['bardzo niskie', 10, 593, '#303030'],
    ['Mgła', 6, 605, '#ffb400'], ['Czas uniwersalny (UTC)', 6, 622, '#000']
];
legendTexts.forEach(t => text(t[0], t[1], t[2], t[3], 10.8));
text('> 0.1 okt.', 11, 511, '#fff', 10.8, '', `background:${SKY};padding:1px 0`);
text('wysokie', 10, 556, '#fff', 10.8, '', `background:${SKY};padding:1px 0`);
text('* powyżej poziomu morza', 5, 647, '#000', 9, '', 'font-weight:bold');

const headTexts = [
    ['21°40\'27"E, 54°10\'38"N', 551, 8], ['(x=260,  y=350)', 551, 21],
    ['wysokość (min, środek, max)', 740, 8], ['75 - 128 - 153 m', 740, 21]
];
text('wschód słońca: 04:18 CEST', 280, 8, NAVY, 12);
text('zachód słońca: 21:00 CEST', 280, 21, NAVY, 12);
headTexts.forEach(t => text(t[0], t[1], t[2], NAVY, 12, 'c'));
[['nie, 13.07', 378, 37], ['pon, 14.07', 547, 37], ['wto, 15.07', 716, 37],
 ['CEST', 319, 50], ['CEST', 783, 50], ['UTC', 319, 613], ['UTC', 783, 613],
 ['13.07', 378, 626], ['14.07', 547, 626], ['15.07', 716, 626]].forEach(t => text(t[0], t[1], t[2], '#000', 12, 'c'));
text('meteo@icm.edu.pl', 300, 648, NAVY, 12.4);
text('© 2007-2025 ICM, Uniwersytet Warszawski', 554, 648, NAVY, 12.4);

[['temperatura', 289, 96], ['(°C)', 303, 96], ['(°C)', 801, 96], ['temperatura', 813, 96],
 ['opad', 289, 185], ['(mm/h, kg/m²/h)', 303, 183], ['(%)', 801, 185], ['wilgotność wzgl.', 813, 183],
 ['ciśnienie', 289, 273], ['(hPa)', 303, 273], ['(mm Hg)', 801, 270], ['ciśnienie', 813, 270],
 ['wiatr', 289, 360], ['(m/s)', 303, 360], ['(km/h)', 801, 360], ['wiatr', 813, 360],
 ['pion. rozciągł. chm.', 289, 481], ['(km)', 303, 475], ['(km)', 801, 475], ['widzialność', 813, 478],
 ['zachmurzenie', 289, 572], ['(oktanty)', 303, 558], ['(frakcja)', 801, 563], ['mgła', 813, 563]
].forEach(t => text(t[0], t[1], t[2], NAVY, 12, 'r'));
[['W', 289, 415], ['S', 296, 423], ['W', 800, 415], ['S', 806, 423]].forEach(t => text(t[0], t[1], t[2], NAVY, 11, 'c'));
[['N', 298, 408], ['E', 305, 416], ['N', 808, 408], ['E', 815, 416]].forEach(t => text(t[0], t[1], t[2], NAVY, 11, 'r'));

// leader lines of the legend column
const leaders = [
    ['#000', '67,16 133,16 157,46'], [BROWN, '101,44 120,44 143,80'], [RED, '92,76 116,76'], [RED, '130,76 137,76 157,103'],
    ['#0000ff', '70,99 135,99'], [SLATE, '94,120 117,120 135,113'], [RED, '103,137 137,137 146,146'],
    [HUMID, '106,151 111,151'], [HUMID, '130,150 145,163'], ['#000', '103,166 113,166'], ['#000', '129,166 134,164 139,172'],
    [GREEN, '70,179 140,179'], [GREEN, '80,190 140,190'], [BLUE, '80,202 112,202'], [BLUE, '128,202 160,172'], [BLUE, '81,212 130,212 160,180'],
    [RED, '97,224 145,224 147,220'], ['#000', '52,264 132,264 135,262'], [RED, '110,334 118,334'], [RED, '131,332 138,316'],
    [RED, '105,348 131,348 146,340'], [NAVY, '92,368 136,368'], [NAVY, '85,409 136,409'], [BROWN, '100,429 120,429 178,446'],
    ['#000', '57,468 140,468 188,456'], ['#444', '55,480 143,480'], ['#999', '55,490 133,490 145,505'], ['#ddd', '55,500 130,500 140,510'],
    [SKY, '55,509 135,509'], [SKY, '55,512 135,512'], [ORANGE, '67,527 128,527 172,465'], [SKY, '54,554 185,554'], ['#fff', '54,556 185,556'], [SKY, '54,558 185,558'],
    ['#999', '50,570 190,570'], ['#444', '40,582 122,582'], ['#444', '133,582 146,582'], ['#222', '75,594 145,594'],
    ['#ffb400', '27,605 215,605 218,590'], ['#000', '138,623 147,623 158,608']
];
const svg = leaders.map(l => `<polyline points="${l[1]}" fill="none" stroke="${l[0]}" stroke-width="1"/>`).join('');
page.insertAdjacentHTML('beforeend', `<svg width="820" height="660">${svg}</svg>`);
</script>
</body>
</html>
